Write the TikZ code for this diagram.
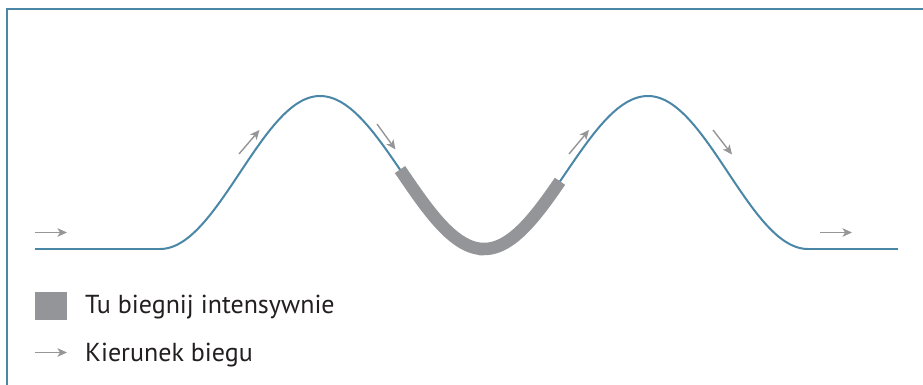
\documentclass[tikz,border=0pt]{standalone}
\usepackage{fontspec}
\setmainfont{PT Sans}
\usetikzlibrary{arrows.meta}
\definecolor{curveblue}{RGB}{74,134,166}
\definecolor{bandgray}{RGB}{147,149,152}
\definecolor{arrowgray}{RGB}{150,150,152}
\definecolor{textdark}{RGB}{35,31,32}
\tikzset{
  track/.style={draw=curveblue, line width=2pt, line join=round},
  band/.style={draw=bandgray, line width=12.5pt, line cap=butt},
  runarrow/.style={draw=arrowgray, line width=1.4pt, -{Stealth[length=9.5pt,width=8.5pt,inset=2.5pt]}},
  frameline/.style={draw=curveblue, line width=2pt},
  legendtext/.style={anchor=base west, inner sep=0pt, text=textdark, font=\fontsize{26}{30}\selectfont}
}
\begin{document}
\begin{tikzpicture}[x=1pt,y=-1pt]
\useasboundingbox (0,0) rectangle (923,385);
% frame (top and left edges)
\coordinate (fbl) at (6.5,385);
\coordinate (ftl) at (6.5,9.5);
\coordinate (ftr) at (923,9.5);
\draw[frameline] (fbl) -- (ftl) -- (ftr);
% track
\coordinate (s0) at (35,249);
\coordinate (s1) at (160,249);
\coordinate (s2) at (808,249);
\coordinate (s3) at (898,249);
\draw[track] (s0) -- (s1);
\draw[track] plot[domain=160:320, samples=80, variable=\x] (\x, {172.5+76.5*cos(180/160*(\x-160))});
\draw[track] plot[domain=320:484, samples=80, variable=\x] (\x, {172.5-76.5*cos(180/164*(\x-320))});
\draw[track] plot[domain=484:648, samples=80, variable=\x] (\x, {172.5+76.5*cos(180/164*(\x-484))});
\draw[track] plot[domain=648:808, samples=80, variable=\x] (\x, {172.5-76.5*cos(180/160*(\x-648))});
\draw[track] (s2) -- (s3);
% intensive band
\draw[band] plot[domain=400:484, samples=50, variable=\x] (\x, {172.5-76.5*cos(180/164*(\x-320))})
  -- plot[domain=484:560, samples=50, variable=\x] (\x, {172.5+76.5*cos(180/164*(\x-484))});
% direction arrows
\coordinate (a1s) at (35,232.5);   \coordinate (a1e) at (67,232.5);
\coordinate (a2s) at (239,154);    \coordinate (a2e) at (259.5,130);
\coordinate (a3s) at (377,124);    \coordinate (a3e) at (395.5,149.5);
\coordinate (a4s) at (569,154);    \coordinate (a4e) at (589,130);
\coordinate (a5s) at (713,130);    \coordinate (a5e) at (732,154.5);
\coordinate (a6s) at (820,232.5);  \coordinate (a6e) at (852,232.5);
\draw[runarrow] (a1s) -- (a1e);
\draw[runarrow] (a2s) -- (a2e);
\draw[runarrow] (a3s) -- (a3e);
\draw[runarrow] (a4s) -- (a4e);
\draw[runarrow] (a5s) -- (a5e);
\draw[runarrow] (a6s) -- (a6e);
% legend
\coordinate (sq1) at (35,291.5);
\coordinate (sq2) at (66.5,319.5);
\fill[bandgray] (sq1) rectangle (sq2);
\node[legendtext] (t1) at (85,313) {Tu biegnij intensywnie};
\coordinate (l2s) at (35,352.5); \coordinate (l2e) at (67,352.5);
\draw[runarrow] (l2s) -- (l2e);
\node[legendtext] (t2) at (85,361.5) {Kierunek biegu};
\end{tikzpicture}
\end{document}
